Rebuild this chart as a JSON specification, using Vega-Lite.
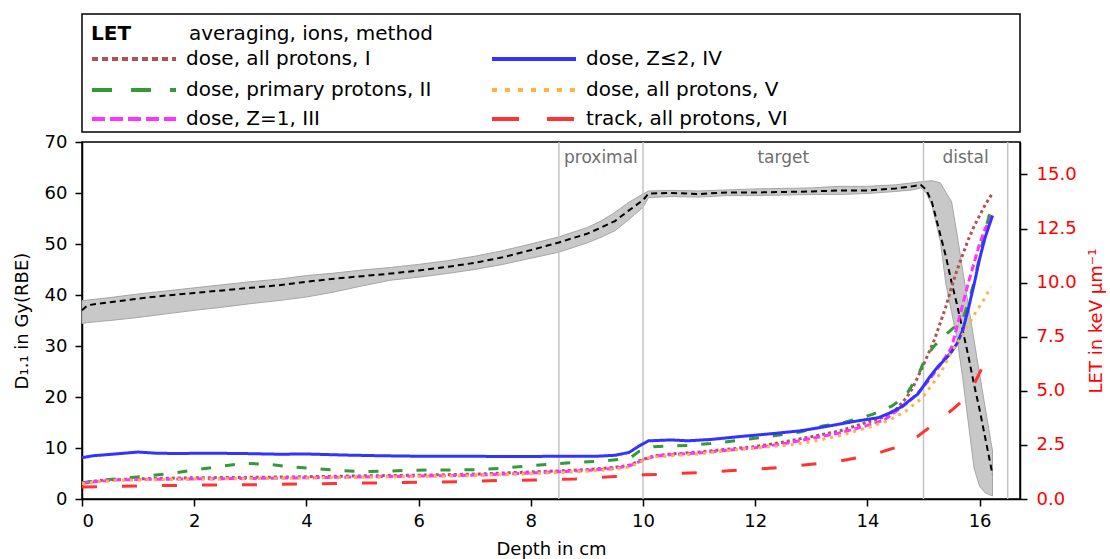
{
  "$schema": "https://vega.github.io/schema/vega-lite/v6.json",
  "padding": {"left": 12, "top": 13, "right": 0, "bottom": 0},
  "spacing": 10,
  "bounds": "flush",
  "background": "white",
  "config": {
    "font": "DejaVu Sans",
    "view": {"stroke": "black", "strokeWidth": 1.5},
    "axis": {"labelFont": "DejaVu Sans", "titleFont": "DejaVu Sans", "labelFontSize": 18, "titleFontSize": 18, "titleFontWeight": "normal", "labelColor": "black", "titleColor": "black", "domainColor": "black", "tickColor": "black", "domainWidth": 1.5, "tickWidth": 1.5, "tickSize": 7, "grid": false}
  },
  "resolve": {"scale": {"color": "independent", "strokeDash": "independent"}},
  "datasets": {
    "legend": [
      {"kind": "heading", "text": "LET", "col": 0, "row": 0},
      {"kind": "subheading", "text": "averaging, ions, method", "col": 0, "row": 0},
      {"kind": "entry", "series": "I", "text": "dose, all protons, I", "col": 0, "row": 1},
      {"kind": "entry", "series": "II", "text": "dose, primary protons, II", "col": 0, "row": 2},
      {"kind": "entry", "series": "III", "text": "dose, Z=1, III", "col": 0, "row": 3},
      {"kind": "entry", "series": "IV", "text": "dose, Z≤2, IV", "col": 1, "row": 1},
      {"kind": "entry", "series": "V", "text": "dose, all protons, V", "col": 1, "row": 2},
      {"kind": "entry", "series": "VI", "text": "track, all protons, VI", "col": 1, "row": 3}
    ],
    "bounds": [{"depth": 8.5}, {"depth": 10}, {"depth": 15}, {"depth": 16.5}],
    "regions": [{"label": "proximal", "center": 9.25}, {"label": "target", "center": 12.5}, {"label": "distal", "center": 15.75}],
    "dose": [
      {"depth": 0, "mean": 37.0, "lo": 34.4, "hi": 38.9},
      {"depth": 0.1, "mean": 38.0, "lo": 34.6, "hi": 39.0},
      {"depth": 0.5, "mean": 38.6, "lo": 35.0, "hi": 39.5},
      {"depth": 1, "mean": 39.3, "lo": 35.6, "hi": 40.2},
      {"depth": 1.5, "mean": 39.9, "lo": 36.3, "hi": 40.8},
      {"depth": 2, "mean": 40.4, "lo": 37.0, "hi": 41.4},
      {"depth": 2.5, "mean": 40.9, "lo": 37.6, "hi": 42.0},
      {"depth": 3, "mean": 41.4, "lo": 38.3, "hi": 42.6},
      {"depth": 3.5, "mean": 41.9, "lo": 38.9, "hi": 43.1},
      {"depth": 4, "mean": 42.6, "lo": 39.6, "hi": 43.8},
      {"depth": 4.5, "mean": 43.2, "lo": 40.6, "hi": 44.3},
      {"depth": 5, "mean": 43.7, "lo": 41.8, "hi": 44.9},
      {"depth": 5.5, "mean": 44.2, "lo": 42.9, "hi": 45.4},
      {"depth": 6, "mean": 44.8, "lo": 43.5, "hi": 46.0},
      {"depth": 6.5, "mean": 45.5, "lo": 44.2, "hi": 46.7},
      {"depth": 7, "mean": 46.3, "lo": 45.0, "hi": 47.6},
      {"depth": 7.5, "mean": 47.4, "lo": 46.0, "hi": 48.7},
      {"depth": 8, "mean": 48.8, "lo": 47.2, "hi": 50.0},
      {"depth": 8.5, "mean": 50.3, "lo": 48.4, "hi": 51.4},
      {"depth": 9, "mean": 52.0, "lo": 50.2, "hi": 53.2},
      {"depth": 9.25, "mean": 53.2, "lo": 51.3, "hi": 54.5},
      {"depth": 9.5, "mean": 54.5, "lo": 52.6, "hi": 56.2},
      {"depth": 9.75, "mean": 56.6, "lo": 54.8, "hi": 58.2},
      {"depth": 10, "mean": 58.6, "lo": 57.2, "hi": 59.8},
      {"depth": 10.1, "mean": 59.9, "lo": 59.1, "hi": 60.4},
      {"depth": 10.5, "mean": 60.0, "lo": 59.3, "hi": 60.5},
      {"depth": 11, "mean": 59.8, "lo": 59.2, "hi": 60.4},
      {"depth": 11.5, "mean": 60.1, "lo": 59.5, "hi": 60.6},
      {"depth": 12, "mean": 60.1, "lo": 59.5, "hi": 60.8},
      {"depth": 12.5, "mean": 60.2, "lo": 59.6, "hi": 60.9},
      {"depth": 13, "mean": 60.3, "lo": 59.7, "hi": 61.0},
      {"depth": 13.5, "mean": 60.5, "lo": 59.7, "hi": 61.3},
      {"depth": 14, "mean": 60.5, "lo": 59.9, "hi": 61.3},
      {"depth": 14.5, "mean": 60.9, "lo": 60.3, "hi": 61.6},
      {"depth": 14.8, "mean": 61.3, "lo": 60.6, "hi": 62.0},
      {"depth": 14.95, "mean": 61.6, "lo": 61.0, "hi": 62.2},
      {"depth": 15.05, "mean": 60.6, "lo": 60.0, "hi": 62.3},
      {"depth": 15.15, "mean": 58.2, "lo": 57.6, "hi": 62.4},
      {"depth": 15.3, "mean": 51.8, "lo": 50.5, "hi": 62.0},
      {"depth": 15.4, "mean": 47.5, "lo": 42.1, "hi": 60.1},
      {"depth": 15.5, "mean": 42.5, "lo": 36.7, "hi": 58.3},
      {"depth": 15.6, "mean": 38.0, "lo": 31.3, "hi": 51.8},
      {"depth": 15.7, "mean": 33.0, "lo": 23.6, "hi": 44.7},
      {"depth": 15.8, "mean": 28.0, "lo": 14.9, "hi": 38.0},
      {"depth": 15.9, "mean": 22.5, "lo": 6.1, "hi": 31.2},
      {"depth": 16.0, "mean": 17.5, "lo": 2.5, "hi": 24.5},
      {"depth": 16.1, "mean": 12.0, "lo": 1.2, "hi": 17.9},
      {"depth": 16.23, "mean": 4.8, "lo": 0.6, "hi": 9.4}
    ],
    "let": [
      {"series": "I", "depth": 0, "let": 0.75}, {"series": "I", "depth": 0.3, "let": 0.85}, {"series": "I", "depth": 0.6, "let": 0.9}, {"series": "I", "depth": 1.0, "let": 0.93}, {"series": "I", "depth": 1.5, "let": 0.96}, {"series": "I", "depth": 2.0, "let": 0.98}, {"series": "I", "depth": 3.0, "let": 1.0}, {"series": "I", "depth": 4.0, "let": 1.03}, {"series": "I", "depth": 5.0, "let": 1.07}, {"series": "I", "depth": 6.0, "let": 1.1}, {"series": "I", "depth": 7.0, "let": 1.15}, {"series": "I", "depth": 7.5, "let": 1.2}, {"series": "I", "depth": 8.0, "let": 1.25}, {"series": "I", "depth": 8.5, "let": 1.3}, {"series": "I", "depth": 9.0, "let": 1.36}, {"series": "I", "depth": 9.5, "let": 1.46}, {"series": "I", "depth": 9.75, "let": 1.56}, {"series": "I", "depth": 10.0, "let": 1.83}, {"series": "I", "depth": 10.2, "let": 2.0}, {"series": "I", "depth": 10.5, "let": 2.08}, {"series": "I", "depth": 11.0, "let": 2.17}, {"series": "I", "depth": 11.5, "let": 2.3}, {"series": "I", "depth": 12.0, "let": 2.42}, {"series": "I", "depth": 12.5, "let": 2.63}, {"series": "I", "depth": 13.0, "let": 2.88}, {"series": "I", "depth": 13.5, "let": 3.14}, {"series": "I", "depth": 14.0, "let": 3.55}, {"series": "I", "depth": 14.3, "let": 3.8}, {"series": "I", "depth": 14.5, "let": 4.1}, {"series": "I", "depth": 14.7, "let": 4.7}, {"series": "I", "depth": 14.8, "let": 5.1}, {"series": "I", "depth": 15.0, "let": 6.2}, {"series": "I", "depth": 15.2, "let": 7.4}, {"series": "I", "depth": 15.4, "let": 8.9}, {"series": "I", "depth": 15.5, "let": 9.8}, {"series": "I", "depth": 15.6, "let": 10.6}, {"series": "I", "depth": 15.7, "let": 11.3}, {"series": "I", "depth": 15.8, "let": 12.0}, {"series": "I", "depth": 15.9, "let": 12.6}, {"series": "I", "depth": 16.0, "let": 13.1}, {"series": "I", "depth": 16.1, "let": 13.6}, {"series": "I", "depth": 16.22, "let": 14.1},
      {"series": "II", "depth": 0, "let": 0.75}, {"series": "II", "depth": 0.4, "let": 0.88}, {"series": "II", "depth": 0.84, "let": 0.98}, {"series": "II", "depth": 1.25, "let": 1.09}, {"series": "II", "depth": 1.67, "let": 1.21}, {"series": "II", "depth": 2.09, "let": 1.37}, {"series": "II", "depth": 2.5, "let": 1.52}, {"series": "II", "depth": 2.92, "let": 1.65}, {"series": "II", "depth": 3.33, "let": 1.6}, {"series": "II", "depth": 3.75, "let": 1.48}, {"series": "II", "depth": 4.17, "let": 1.4}, {"series": "II", "depth": 4.58, "let": 1.32}, {"series": "II", "depth": 5.0, "let": 1.26}, {"series": "II", "depth": 5.41, "let": 1.29}, {"series": "II", "depth": 5.83, "let": 1.32}, {"series": "II", "depth": 6.24, "let": 1.34}, {"series": "II", "depth": 6.66, "let": 1.34}, {"series": "II", "depth": 7.08, "let": 1.36}, {"series": "II", "depth": 7.49, "let": 1.42}, {"series": "II", "depth": 7.91, "let": 1.52}, {"series": "II", "depth": 8.32, "let": 1.6}, {"series": "II", "depth": 8.74, "let": 1.68}, {"series": "II", "depth": 9.2, "let": 1.74}, {"series": "II", "depth": 9.57, "let": 1.83}, {"series": "II", "depth": 9.8, "let": 1.95}, {"series": "II", "depth": 9.93, "let": 2.2}, {"series": "II", "depth": 10.2, "let": 2.42}, {"series": "II", "depth": 10.82, "let": 2.48}, {"series": "II", "depth": 11.2, "let": 2.56}, {"series": "II", "depth": 11.71, "let": 2.71}, {"series": "II", "depth": 12.3, "let": 2.91}, {"series": "II", "depth": 12.8, "let": 3.1}, {"series": "II", "depth": 13.2, "let": 3.37}, {"series": "II", "depth": 13.6, "let": 3.55}, {"series": "II", "depth": 14.09, "let": 3.91}, {"series": "II", "depth": 14.44, "let": 4.3}, {"series": "II", "depth": 14.68, "let": 4.76}, {"series": "II", "depth": 14.9, "let": 5.7}, {"series": "II", "depth": 15.05, "let": 6.6}, {"series": "II", "depth": 15.2, "let": 7.1}, {"series": "II", "depth": 15.4, "let": 7.6}, {"series": "II", "depth": 15.55, "let": 7.95}, {"series": "II", "depth": 15.7, "let": 8.3}, {"series": "II", "depth": 15.8, "let": 9.1}, {"series": "II", "depth": 15.9, "let": 10.0}, {"series": "II", "depth": 16.0, "let": 11.2}, {"series": "II", "depth": 16.1, "let": 12.4}, {"series": "II", "depth": 16.2, "let": 13.4},
      {"series": "III", "depth": 0, "let": 0.72}, {"series": "III", "depth": 0.3, "let": 0.82}, {"series": "III", "depth": 0.6, "let": 0.88}, {"series": "III", "depth": 1.0, "let": 0.9}, {"series": "III", "depth": 2.0, "let": 0.93}, {"series": "III", "depth": 3.0, "let": 0.95}, {"series": "III", "depth": 4.0, "let": 0.98}, {"series": "III", "depth": 5.0, "let": 1.02}, {"series": "III", "depth": 6.0, "let": 1.06}, {"series": "III", "depth": 7.0, "let": 1.1}, {"series": "III", "depth": 8.0, "let": 1.2}, {"series": "III", "depth": 8.5, "let": 1.26}, {"series": "III", "depth": 9.0, "let": 1.32}, {"series": "III", "depth": 9.5, "let": 1.42}, {"series": "III", "depth": 9.75, "let": 1.52}, {"series": "III", "depth": 10.0, "let": 1.8}, {"series": "III", "depth": 10.2, "let": 1.97}, {"series": "III", "depth": 10.5, "let": 2.05}, {"series": "III", "depth": 11.0, "let": 2.13}, {"series": "III", "depth": 11.5, "let": 2.25}, {"series": "III", "depth": 12.0, "let": 2.37}, {"series": "III", "depth": 12.5, "let": 2.55}, {"series": "III", "depth": 13.0, "let": 2.8}, {"series": "III", "depth": 13.5, "let": 3.05}, {"series": "III", "depth": 14.0, "let": 3.4}, {"series": "III", "depth": 14.3, "let": 3.65}, {"series": "III", "depth": 14.68, "let": 4.37}, {"series": "III", "depth": 14.9, "let": 4.9}, {"series": "III", "depth": 15.1, "let": 5.5}, {"series": "III", "depth": 15.3, "let": 6.2}, {"series": "III", "depth": 15.5, "let": 7.0}, {"series": "III", "depth": 15.6, "let": 8.0}, {"series": "III", "depth": 15.7, "let": 9.0}, {"series": "III", "depth": 15.8, "let": 10.0}, {"series": "III", "depth": 15.9, "let": 10.9}, {"series": "III", "depth": 16.0, "let": 11.8}, {"series": "III", "depth": 16.1, "let": 12.5}, {"series": "III", "depth": 16.23, "let": 13.1},
      {"series": "IV", "depth": 0, "let": 1.91}, {"series": "IV", "depth": 0.2, "let": 2.0}, {"series": "IV", "depth": 0.5, "let": 2.06}, {"series": "IV", "depth": 1.0, "let": 2.17}, {"series": "IV", "depth": 1.3, "let": 2.12}, {"series": "IV", "depth": 1.7, "let": 2.1}, {"series": "IV", "depth": 2.2, "let": 2.12}, {"series": "IV", "depth": 2.9, "let": 2.1}, {"series": "IV", "depth": 3.5, "let": 2.07}, {"series": "IV", "depth": 4.0, "let": 2.08}, {"series": "IV", "depth": 4.7, "let": 2.03}, {"series": "IV", "depth": 5.3, "let": 2.0}, {"series": "IV", "depth": 5.9, "let": 1.98}, {"series": "IV", "depth": 6.5, "let": 1.98}, {"series": "IV", "depth": 7.2, "let": 1.97}, {"series": "IV", "depth": 7.7, "let": 1.96}, {"series": "IV", "depth": 8.2, "let": 1.97}, {"series": "IV", "depth": 8.7, "let": 1.98}, {"series": "IV", "depth": 9.2, "let": 1.98}, {"series": "IV", "depth": 9.5, "let": 2.02}, {"series": "IV", "depth": 9.75, "let": 2.15}, {"series": "IV", "depth": 9.93, "let": 2.45}, {"series": "IV", "depth": 10.1, "let": 2.69}, {"series": "IV", "depth": 10.5, "let": 2.73}, {"series": "IV", "depth": 10.8, "let": 2.69}, {"series": "IV", "depth": 11.2, "let": 2.75}, {"series": "IV", "depth": 11.7, "let": 2.88}, {"series": "IV", "depth": 12.3, "let": 3.02}, {"series": "IV", "depth": 12.8, "let": 3.15}, {"series": "IV", "depth": 13.2, "let": 3.32}, {"series": "IV", "depth": 13.8, "let": 3.6}, {"series": "IV", "depth": 14.2, "let": 3.76}, {"series": "IV", "depth": 14.4, "let": 3.98}, {"series": "IV", "depth": 14.6, "let": 4.25}, {"series": "IV", "depth": 14.9, "let": 4.85}, {"series": "IV", "depth": 15.1, "let": 5.6}, {"series": "IV", "depth": 15.25, "let": 6.1}, {"series": "IV", "depth": 15.4, "let": 6.5}, {"series": "IV", "depth": 15.5, "let": 6.8}, {"series": "IV", "depth": 15.6, "let": 7.2}, {"series": "IV", "depth": 15.7, "let": 7.8}, {"series": "IV", "depth": 15.8, "let": 8.8}, {"series": "IV", "depth": 15.9, "let": 9.9}, {"series": "IV", "depth": 16.0, "let": 11.1}, {"series": "IV", "depth": 16.1, "let": 12.1}, {"series": "IV", "depth": 16.23, "let": 13.1},
      {"series": "V", "depth": 0, "let": 0.7}, {"series": "V", "depth": 0.3, "let": 0.8}, {"series": "V", "depth": 0.6, "let": 0.86}, {"series": "V", "depth": 1.0, "let": 0.88}, {"series": "V", "depth": 2.0, "let": 0.92}, {"series": "V", "depth": 3.0, "let": 0.94}, {"series": "V", "depth": 4.0, "let": 0.97}, {"series": "V", "depth": 5.0, "let": 1.0}, {"series": "V", "depth": 6.0, "let": 1.04}, {"series": "V", "depth": 7.0, "let": 1.08}, {"series": "V", "depth": 8.0, "let": 1.17}, {"series": "V", "depth": 8.5, "let": 1.22}, {"series": "V", "depth": 9.0, "let": 1.28}, {"series": "V", "depth": 9.5, "let": 1.38}, {"series": "V", "depth": 9.75, "let": 1.48}, {"series": "V", "depth": 9.93, "let": 1.68}, {"series": "V", "depth": 10.1, "let": 1.91}, {"series": "V", "depth": 10.5, "let": 2.0}, {"series": "V", "depth": 11.0, "let": 2.08}, {"series": "V", "depth": 11.71, "let": 2.29}, {"series": "V", "depth": 12.6, "let": 2.49}, {"series": "V", "depth": 13.0, "let": 2.65}, {"series": "V", "depth": 13.49, "let": 2.91}, {"series": "V", "depth": 14.09, "let": 3.37}, {"series": "V", "depth": 14.4, "let": 3.65}, {"series": "V", "depth": 14.68, "let": 4.06}, {"series": "V", "depth": 14.98, "let": 4.68}, {"series": "V", "depth": 15.1, "let": 5.1}, {"series": "V", "depth": 15.3, "let": 5.8}, {"series": "V", "depth": 15.5, "let": 6.8}, {"series": "V", "depth": 15.7, "let": 7.6}, {"series": "V", "depth": 15.9, "let": 8.5}, {"series": "V", "depth": 16.05, "let": 9.1}, {"series": "V", "depth": 16.2, "let": 9.8},
      {"series": "VI", "depth": 0, "let": 0.55}, {"series": "VI", "depth": 1.0, "let": 0.6}, {"series": "VI", "depth": 1.7, "let": 0.63}, {"series": "VI", "depth": 2.4, "let": 0.65}, {"series": "VI", "depth": 3.1, "let": 0.66}, {"series": "VI", "depth": 3.8, "let": 0.69}, {"series": "VI", "depth": 4.5, "let": 0.72}, {"series": "VI", "depth": 5.2, "let": 0.74}, {"series": "VI", "depth": 6.0, "let": 0.77}, {"series": "VI", "depth": 6.7, "let": 0.8}, {"series": "VI", "depth": 7.4, "let": 0.85}, {"series": "VI", "depth": 8.1, "let": 0.88}, {"series": "VI", "depth": 8.8, "let": 0.93}, {"series": "VI", "depth": 9.5, "let": 1.04}, {"series": "VI", "depth": 9.75, "let": 1.08}, {"series": "VI", "depth": 10.0, "let": 1.12}, {"series": "VI", "depth": 10.3, "let": 1.14}, {"series": "VI", "depth": 11.0, "let": 1.22}, {"series": "VI", "depth": 11.7, "let": 1.33}, {"series": "VI", "depth": 12.4, "let": 1.45}, {"series": "VI", "depth": 13.1, "let": 1.63}, {"series": "VI", "depth": 13.5, "let": 1.75}, {"series": "VI", "depth": 13.8, "let": 1.9}, {"series": "VI", "depth": 14.1, "let": 2.05}, {"series": "VI", "depth": 14.4, "let": 2.3}, {"series": "VI", "depth": 14.6, "let": 2.45}, {"series": "VI", "depth": 14.9, "let": 2.9}, {"series": "VI", "depth": 15.1, "let": 3.3}, {"series": "VI", "depth": 15.3, "let": 3.7}, {"series": "VI", "depth": 15.5, "let": 4.1}, {"series": "VI", "depth": 15.7, "let": 4.55}, {"series": "VI", "depth": 15.9, "let": 5.3}, {"series": "VI", "depth": 16.05, "let": 6.1}, {"series": "VI", "depth": 16.17, "let": 6.6}
    ]
  },
  "vconcat": [
    {
      "width": 938,
      "height": 118,
      "data": {"name": "legend"},
      "encoding": {
        "x": {"field": "col", "type": "quantitative", "scale": {"domain": [0, 1], "range": [10, 410], "nice": false, "zero": false}, "axis": null},
        "y": {"field": "row", "type": "quantitative", "scale": {"domain": [0, 1, 2, 3], "range": [20, 45, 76, 105], "nice": false, "zero": false}, "axis": null}
      },
      "layer": [
        {
          "transform": [{"filter": "datum.kind === 'heading'"}],
          "mark": {"type": "text", "font": "DejaVu Sans", "fontSize": 20, "fontWeight": "bold", "align": "left", "baseline": "middle", "dx": -1, "color": "black"},
          "encoding": {"text": {"field": "text"}}
        },
        {
          "transform": [{"filter": "datum.kind === 'subheading'"}],
          "mark": {"type": "text", "font": "DejaVu Sans", "fontSize": 20, "align": "left", "baseline": "middle", "dx": 97, "color": "black"},
          "encoding": {"text": {"field": "text"}}
        },
        {
          "transform": [{"filter": "datum.kind === 'entry'"}],
          "mark": {"type": "rule", "strokeWidth": 4, "x2Offset": 84},
          "encoding": {
            "x2": {"field": "col"},
            "color": {"field": "series", "type": "nominal", "scale": {"domain": ["I", "II", "III", "IV", "V", "VI"], "range": ["#b05252", "#33993a", "#ff33ff", "#3333ff", "#ffb340", "#ff3333"]}, "legend": null},
            "strokeDash": {"field": "series", "type": "nominal", "scale": {"domain": ["I", "II", "III", "IV", "V", "VI"], "range": [[6, 4], [20, 19], [13, 5], [1, 0], [5, 8], [27, 28]]}, "legend": null}
          }
        },
        {
          "transform": [{"filter": "datum.kind === 'entry'"}],
          "mark": {"type": "text", "font": "DejaVu Sans", "fontSize": 20, "align": "left", "baseline": "middle", "dx": 94, "color": "black"},
          "encoding": {"text": {"field": "text"}}
        }
      ]
    },
    {
      "width": 938,
      "height": 357,
      "resolve": {"scale": {"y": "independent"}, "axis": {"y": "independent"}},
      "layer": [
        {
          "layer": [
            {
              "data": {"name": "dose"},
              "mark": {"type": "area", "color": "#c8c8c8", "stroke": "#a6a6a6", "strokeWidth": 1},
              "encoding": {
                "x": {"field": "depth", "type": "quantitative", "scale": {"domain": [0, 16.72], "nice": false, "zero": false}, "axis": {"values": [0, 2, 4, 6, 8, 10, 12, 14, 16], "format": "d", "title": "Depth in cm", "labelPadding": 6, "titlePadding": 10}},
                "y": {"field": "lo", "type": "quantitative", "scale": {"domain": [0, 70], "nice": false}, "axis": {"values": [0, 10, 20, 30, 40, 50, 60, 70], "title": "D₁.₁ in Gy(RBE)", "labelPadding": 8, "titlePadding": 13}},
                "y2": {"field": "hi"}
              }
            },
            {
              "data": {"name": "bounds"},
              "mark": {"type": "rule", "color": "#c4c4c4", "strokeWidth": 1.5},
              "encoding": {"x": {"field": "depth", "type": "quantitative"}}
            },
            {
              "data": {"name": "regions"},
              "mark": {"type": "text", "font": "DejaVu Sans", "fontSize": 17, "color": "#6e6e6e", "baseline": "middle", "align": "center"},
              "encoding": {
                "x": {"field": "center", "type": "quantitative"},
                "y": {"datum": 66.9},
                "text": {"field": "label"}
              }
            },
            {
              "data": {"name": "dose"},
              "mark": {"type": "line", "color": "black", "strokeWidth": 2, "strokeDash": [6, 4]},
              "encoding": {
                "x": {"field": "depth", "type": "quantitative"},
                "y": {"field": "mean", "type": "quantitative"}
              }
            }
          ]
        },
        {
          "data": {"name": "let"},
          "mark": {"type": "line", "strokeWidth": 3},
          "encoding": {
            "x": {"field": "depth", "type": "quantitative"},
            "y": {"field": "let", "type": "quantitative", "scale": {"domain": [0, 16.5], "nice": false}, "axis": {"orient": "right", "values": [0, 2.5, 5, 7.5, 10, 12.5, 15], "format": ".1f", "title": "LET in keV µm⁻¹", "labelColor": "#ff0000", "titleColor": "#ff0000", "titleAngle": 270, "titleBaseline": "top", "labelPadding": 9, "titlePadding": 11}},
            "color": {"field": "series", "type": "nominal", "scale": {"domain": ["I", "II", "III", "IV", "V", "VI"], "range": ["#b05252", "#33993a", "#ff33ff", "#3333ff", "#ffb340", "#ff3333"]}, "legend": null},
            "strokeDash": {"field": "series", "type": "nominal", "scale": {"domain": ["I", "II", "III", "IV", "V", "VI"], "range": [[3, 3], [10, 14], [7, 3.5], [1, 0], [3, 5], [15, 25]]}, "legend": null}
          }
        }
      ]
    }
  ]
}
